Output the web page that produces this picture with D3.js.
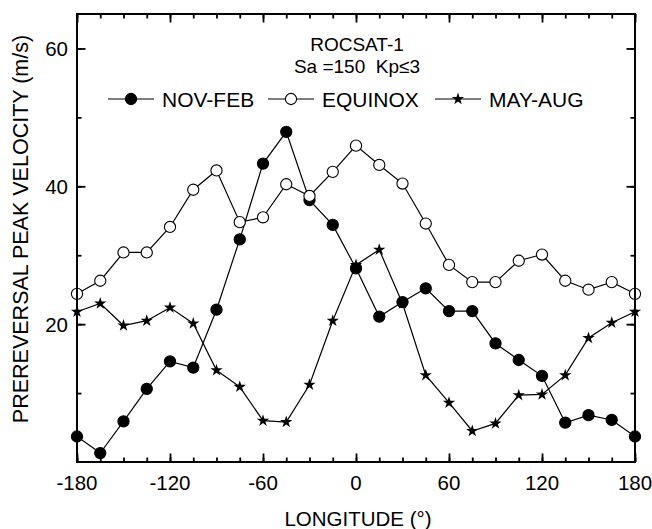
<!DOCTYPE html>
<html>
<head>
<meta charset="utf-8">
<script src="https://cdn.jsdelivr.net/npm/d3@7"></script>
<style>
  body { margin: 0; background: #fff; }
  svg { font-family: "Liberation Sans", Arial, sans-serif; }
  .line { fill: none; stroke: #000; stroke-width: 1.2; }
</style>
</head>
<body>
<svg width="652" height="529"></svg>
<script>
// longitude bins, 15 deg apart
const longitudes = [-180, -165, -150, -135, -120, -105, -90, -75, -60, -45, -30, -15,
                    0, 15, 30, 45, 60, 75, 90, 105, 120, 135, 150, 165, 180];
const novFeb = [3.7, 1.3, 5.9, 10.6, 14.6, 13.7, 22.1, 32.3, 43.3, 47.9, 38.0, 34.4,
                28.1, 21.1, 23.2, 25.2, 21.9, 21.9, 17.2, 14.8, 12.5, 5.7, 6.8, 6.1, 3.7];
const equinox = [24.4, 26.3, 30.4, 30.4, 34.1, 39.5, 42.3, 34.8, 35.5, 40.3, 38.6, 42.1,
                 45.9, 43.1, 40.4, 34.6, 28.6, 26.1, 26.1, 29.2, 30.1, 26.3, 25.0, 26.1, 24.4];
const mayAug = [21.8, 23.0, 19.8, 20.5, 22.4, 20.1, 13.3, 10.9, 6.0, 5.8, 11.2, 20.5,
                28.6, 30.8, 23.0, 12.6, 8.6, 4.5, 5.6, 9.7, 9.8, 12.6, 18.0, 20.2, 21.8];
const seriesNames = ["NOV-FEB", "EQUINOX", "MAY-AUG"];
const xTicks = [-180, -120, -60, 0, 60, 120, 180];
const yTicks = [20, 40, 60];

var svg = d3.select("svg");
const plotL = 77, plotR = 635, plotT = 14, plotB = 462;

const x = d3.scaleLinear().domain([-180, 180]).range([plotL, plotR]);
const y = d3.scaleLinear().domain([0, 65]).range([plotB, plotT]);

const series = [
  {name: seriesNames[0], values: novFeb, marker: "filled"},
  {name: seriesNames[1], values: equinox, marker: "open"},
  {name: seriesNames[2], values: mayAug, marker: "star"}
];

const line = d3.line()
  .x((d) => x(d[0]))
  .y((d) => y(d[1]));

function drawMarker(g, kind) {
  if (kind == "star") {
    g.append("path")
      .attr("d", d3.symbol().type(d3.symbolStar).size(47)())
      .attr("fill", "#000");
  } else {
    g.append("circle")
      .attr("r", 5.6)
      .attr("fill", kind == "filled" ? "#000" : "#fff")
      .attr("stroke", "#000")
      .attr("stroke-width", 1.1);
  }
}

// -----------------------------------------------------------------------------
// series

series.forEach((s) => {
  let pts = longitudes.map((lon, i) => [lon, s.values[i]]);
  let g = svg.append("g").attr("class", "series");
  g.append("path")
    .attr("class", "line")
    .attr("d", line(pts));
  g.selectAll("g.pt")
    .data(pts)
    .enter().append("g")
    .attr("class", "pt")
    .attr("transform", (d) => `translate(${x(d[0])},${y(d[1])})`)
    .each(function() { drawMarker(d3.select(this), s.marker); });
});

// -----------------------------------------------------------------------------
// axes (ticks point inward, on all four sides)

const xMinor = d3.range(-180, 181, 15);
const yMinor = d3.range(10, 65, 10);
const minorLen = 4.5, majorLen = 8.5;

svg.append("g")
  .attr("transform", `translate(0,${plotB})`)
  .call(d3.axisTop(x).tickValues(xMinor).tickSize(minorLen).tickFormat(""));
svg.append("g")
  .attr("transform", `translate(0,${plotB})`)
  .call(d3.axisTop(x).tickValues(xTicks).tickSize(majorLen).tickFormat(""));
svg.append("g")
  .attr("transform", `translate(0,${plotT})`)
  .call(d3.axisBottom(x).tickValues(xMinor).tickSize(minorLen).tickFormat(""));
svg.append("g")
  .attr("transform", `translate(0,${plotT})`)
  .call(d3.axisBottom(x).tickValues(xTicks).tickSize(majorLen).tickFormat(""));
svg.append("g")
  .attr("transform", `translate(${plotL},0)`)
  .call(d3.axisRight(y).tickValues(yMinor).tickSize(minorLen).tickFormat(""));
svg.append("g")
  .attr("transform", `translate(${plotL},0)`)
  .call(d3.axisRight(y).tickValues(yTicks).tickSize(majorLen).tickFormat(""));
svg.append("g")
  .attr("transform", `translate(${plotR},0)`)
  .call(d3.axisLeft(y).tickValues(yMinor).tickSize(minorLen).tickFormat(""));
svg.append("g")
  .attr("transform", `translate(${plotR},0)`)
  .call(d3.axisLeft(y).tickValues(yTicks).tickSize(majorLen).tickFormat(""));

svg.selectAll(".domain").remove();
svg.selectAll(".tick line").attr("stroke", "#000").attr("stroke-width", 1.8);

svg.append("rect")
  .attr("x", plotL).attr("y", plotT)
  .attr("width", plotR - plotL).attr("height", plotB - plotT)
  .attr("fill", "none").attr("stroke", "#000").attr("stroke-width", 2);

// tick labels
svg.append("g").selectAll("text")
  .data(xTicks)
  .enter().append("text")
  .attr("x", (d) => x(d))
  .attr("y", 490)
  .attr("text-anchor", "middle")
  .attr("font-size", 20.5)
  .text((d) => d);

svg.append("g").selectAll("text")
  .data(yTicks)
  .enter().append("text")
  .attr("x", 68)
  .attr("y", (d) => y(d) + 7.5)
  .attr("text-anchor", "end")
  .attr("font-size", 20.5)
  .text((d) => d);

// axis titles
svg.append("text")
  .attr("x", 358)
  .attr("y", 526)
  .attr("text-anchor", "middle")
  .attr("font-size", 20.5)
  .text("LONGITUDE (°)");

svg.append("text")
  .attr("transform", "translate(28,229) rotate(-90)")
  .attr("text-anchor", "middle")
  .attr("font-size", 21.5)
  .text("PREREVERSAL PEAK VELOCITY (m/s)");

// title block
svg.append("text")
  .attr("x", 357).attr("y", 51)
  .attr("text-anchor", "middle")
  .attr("font-size", 19)
  .text("ROCSAT-1");
svg.append("text")
  .attr("x", 357).attr("y", 73)
  .attr("text-anchor", "middle")
  .attr("font-size", 19)
  .style("white-space", "pre")
  .text("Sa =150  Kp≤3");

// legend
const legendX = [108, 268, 435];
let legend = svg.append("g")
  .selectAll("g")
  .data(series)
  .enter().append("g")
  .attr("transform", (d, i) => `translate(${legendX[i]},99)`);
legend.append("line")
  .attr("x1", 0).attr("x2", 46)
  .attr("stroke", "#000").attr("stroke-width", 1.2);
legend.each(function(d) {
  let m = d3.select(this).append("g").attr("transform", "translate(23,0)");
  drawMarker(m, d.marker);
});
legend.append("text")
  .attr("x", 54)
  .attr("y", 8)
  .attr("font-size", 21)
  .text((d) => d.name);
</script>
</body>
</html>
